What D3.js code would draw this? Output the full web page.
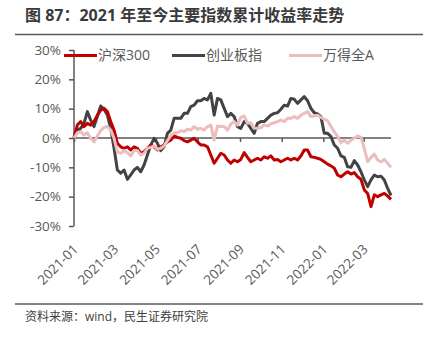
<!DOCTYPE html>
<html>
<head>
<meta charset="utf-8">
<script src="https://cdn.jsdelivr.net/npm/d3@7"></script>
<style>
  html, body { margin: 0; padding: 0; background: #fff; }
  svg { display: block; }
  text { font-family: "Open Sans", "Noto Sans CJK SC", sans-serif; }
</style>
</head>
<body>
<svg id="chart" width="434" height="341"></svg>
<script>
// ---------- data ----------
const titleText = "图 87：2021 年至今主要指数累计收益率走势";
const sourceText = "资料来源：wind，民生证券研究院";
const seriesNames = ["沪深300", "创业板指", "万得全A"];
const startDate = "2021-01-01";
const endDate = "2022-04-10";
const yTicks = [-30, -20, -10, 0, 10, 20, 30];
const xTickLabels = ["2021-01", "2021-03", "2021-05", "2021-07", "2021-09", "2021-11", "2022-01", "2022-03"];

// cumulative return (%), sampled roughly every 5 calendar days
const hs300 = [0, 4.4, 5.6, 3.9, 5.0, 4.4, 5.6, 7.8, 9.5, 10.1, 9.0, 5.6, 2.7, -1.8, -3.0, -3.5, -3.0, -4.1, -3.0, -3.5,
  -5.2, -4.7, -3.5, -2.4, -3.0, -4.1, -3.0, -2.4, -1.3, -0.7, 0.7, 0.2, -0.1, -0.9, -1.3, -0.7, -0.1, -1.3, -2.4, -2.4,
  -3.0, -5.8, -8.6, -6.9, -5.2, -5.8, -7.5, -8.6, -7.5, -8.1, -7.3, -5.0, -6.6, -8.1, -7.5, -6.9, -7.5, -6.4, -6.9, -6.1,
  -7.5, -7.3, -8.1, -7.5, -6.9, -7.5, -6.9, -7.5, -6.1, -4.1, -4.1, -6.4, -6.6, -6.9, -7.3, -8.1, -8.9, -9.5, -10.3, -12.6,
  -13.2, -12.3, -11.5, -12.3, -11.8, -13.2, -14.1, -17.7, -18.9, -23.4, -19.4, -20.0, -19.4, -18.9, -19.8, -20.9];
const cyb = [0, 2.7, 3.3, 5.0, 9.0, 6.1, 3.9, 7.3, 10.9, 9.8, 7.8, 3.3, -3.5, -10.9, -12.0, -10.9, -14.1, -12.6, -10.9, -10.0,
  -11.5, -9.2, -5.8, -2.4, -0.1, -1.8, -4.3, -3.0, 1.6, 2.7, 6.7, 6.7, 6.7, 8.4, 8.4, 10.7, 11.2, 12.7, 12.7, 13.5,
  13.0, 15.2, 7.8, 13.5, 13.0, 10.1, 7.3, 8.4, 7.3, 3.9, 3.3, 5.6, 5.0, 3.3, 1.6, 5.0, 5.6, 5.6, 6.7, 7.8,
  8.4, 8.6, 9.8, 11.2, 10.9, 13.5, 13.2, 11.8, 13.0, 14.1, 12.7, 10.1, 8.6, 8.2, 7.3, 1.6, 1.6, 0.5, -2.4, -3.5,
  -6.1, -6.6, -9.8, -10.0, -7.7, -9.2, -11.5, -14.3, -16.6, -14.3, -12.6, -13.2, -13.0, -14.3, -17.2, -19.6];
const windA = [0, 1.8, 2.2, 1.0, 1.8, -0.1, -1.3, 0.7, 2.5, 3.6, 3.9, 2.7, -0.1, -4.7, -5.2, -4.3, -5.0, -6.1, -4.3, -4.3,
  -5.8, -5.2, -3.5, -3.2, -2.7, -3.9, -3.5, -2.7, -0.9, 0.7, 1.8, 1.8, 2.5, 2.2, 3.0, 2.7, 3.9, 3.0, 3.3, 2.7,
  3.9, 4.4, -0.7, 4.1, 3.9, 3.9, 2.7, 4.8, 5.6, 4.4, 7.0, 7.5, 5.0, 5.2, 3.3, 3.3, 3.6, 4.4, 4.1, 4.8,
  5.2, 5.6, 6.1, 5.6, 6.7, 6.7, 7.3, 6.7, 7.8, 8.4, 9.0, 7.3, 7.5, 7.8, 7.0, 6.4, 5.9, 3.9, 2.2, 0.5,
  -1.6, -0.7, -1.8, -0.7, -0.1, 0.7, 0.2, -3.5, -8.1, -6.6, -5.5, -7.5, -8.1, -7.3, -8.6, -10.0];

const seriesValues = [hs300, cyb, windA];
const seriesColors = ["#C00000", "#434343", "#EBBDBD"];

// ---------- layout ----------
const svg = d3.select("#chart");
const parse = d3.timeParse("%Y-%m-%d");
const d0 = parse(startDate), d1 = parse(endDate);
const x = d3.scaleTime().domain([d0, d1]).range([74, 391]);
const y = d3.scaleLinear().domain([-30, 30]).range([226, 50]);
const axisColor = "#595959";
const textColor = "#595959";

// dates for the sampled points: evenly spread across the span
const n = hs300.length;
const dates = d3.range(n).map(i => new Date(d0.getTime() + (d1 - d0) * i / (n - 1)));

// title
svg.append("text").attr("x", 25).attr("y", 21)
  .attr("font-size", 16).attr("font-weight", "bold").attr("fill", "#3a3a3a")
  .attr("font-family", "'Noto Sans CJK SC', sans-serif")
  .text(titleText);
svg.append("line").attr("x1", 15).attr("x2", 423).attr("y1", 34.5).attr("y2", 34.5)
  .attr("stroke", "#5a5a5a").attr("stroke-width", 1.5);

// y axis
const yAxis = d3.axisLeft(y).tickValues(yTicks).tickFormat(d => d + "%").tickSize(5).tickPadding(8);
const gy = svg.append("g").attr("transform", "translate(74,0)").call(yAxis);
gy.select(".domain").attr("stroke", axisColor).attr("stroke-width", 1.5).attr("d", "M0,50V226");
gy.selectAll(".tick line").attr("stroke", axisColor).attr("stroke-width", 1.5);
gy.selectAll(".tick text").attr("fill", textColor).attr("font-size", 13.5)
  .attr("font-family", "'Open Sans', 'Noto Sans CJK SC', sans-serif");

// x axis at 0%
const xTickDates = xTickLabels.map(s => parse(s + "-01"));
const xAxis = d3.axisBottom(x).tickValues(xTickDates).tickFormat("").tickSize(4);
const gx = svg.append("g").attr("transform", `translate(0,${y(0)})`).call(xAxis);
gx.select(".domain").attr("stroke", axisColor).attr("stroke-width", 1.5).attr("d", "M74,0H391");
gx.selectAll(".tick line").attr("stroke", axisColor).attr("stroke-width", 1.5);

// rotated labels at the bottom
svg.append("g").selectAll("text").data(xTickDates).join("text")
  .attr("transform", (d) => `translate(${x(d) + 5},${250}) rotate(-45)`)
  .attr("text-anchor", "end")
  .attr("font-size", 13.5).attr("fill", textColor)
  .attr("font-family", "'Open Sans', sans-serif")
  .text((d, i) => xTickLabels[i]);

// lines
const line = d3.line().x((d, i) => x(dates[i])).y(d => y(d)).curve(d3.curveLinear);
const drawOrder = [1, 0, 2];
drawOrder.forEach(k => {
  svg.append("path").datum(seriesValues[k])
    .attr("fill", "none").attr("stroke", seriesColors[k]).attr("stroke-width", 3)
    .attr("stroke-linejoin", "round")
    .attr("d", line);
});

// legend
const legendX = [64, 172, 289];
seriesNames.forEach((name, k) => {
  const g = svg.append("g").attr("transform", `translate(${legendX[k]},55.5)`);
  g.append("line").attr("x1", 0).attr("x2", 33).attr("stroke", seriesColors[k]).attr("stroke-width", 3);
  g.append("text").attr("x", 34).attr("y", 0).attr("dy", "0.35em")
    .attr("font-size", 14).attr("fill", textColor)
    .attr("font-family", "'Open Sans', 'Noto Sans CJK SC', sans-serif")
    .text(name);
});

// footer
svg.append("line").attr("x1", 15).attr("x2", 423).attr("y1", 304).attr("y2", 304)
  .attr("stroke", "#5a5a5a").attr("stroke-width", 1.5);
svg.append("text").attr("x", 25).attr("y", 321)
  .attr("font-size", 12).attr("fill", "#404040")
  .attr("font-family", "'Open Sans', 'Noto Sans CJK SC', sans-serif")
  .text(sourceText);
</script>
</body>
</html>
